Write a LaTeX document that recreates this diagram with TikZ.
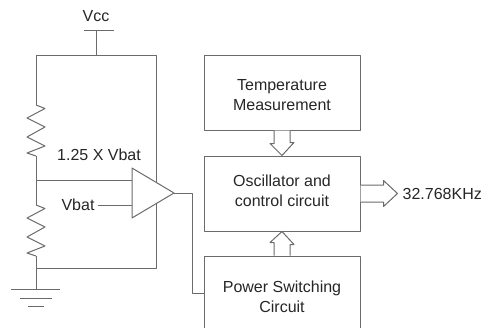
\documentclass[tikz,border=0pt]{standalone}
\usepackage{fontspec}
\setmainfont{Liberation Sans}
\usetikzlibrary{positioning}
\definecolor{wirecol}{gray}{0.42}
\tikzset{
  wire/.style={draw=wirecol, line width=1pt},
  blockbox/.style={wire, minimum width=156pt, inner sep=0pt, align=center, text=black!85},
  label/.style={inner sep=0pt, text=black!85, align=center},
  resistor/.pic={\draw[wire] (0,0)--(9,3.5)--(-9,13)--(9,22)--(-9,32)--(9,41)--(-9,48)--(0,51);}
}
\begin{document}
\begin{tikzpicture}[x=1pt, y=-1pt, font=\fontsize{16}{20}\selectfont, line join=round]
  \useasboundingbox (0,0) rectangle (485,327);
  % blocks on the right
  \node[blockbox, minimum height=75pt] (temp) at (282,92.5) {};
  \node[blockbox, minimum height=75pt] (osc) at (282,193.5) {};
  \node[blockbox, minimum height=82pt] (power) at (282,297) {Power Switching\\Circuit};
  \node[label] (templabel) at (282,95.5) {Temperature\\Measurement};
  \node[label] (osclabel) at (282,190.5) {Oscillator and\\control circuit};
  \node[label, right=42pt of osc.east] (freq) {32.768KHz};
  % hollow arrows
  \draw[wire, fill=white] ([xshift=-8pt]temp.south)--++(0,13)--++(-4,0)--(osc.north)--++(12,-13)--++(-4,0)--([xshift=8pt]temp.south);
  \draw[wire, fill=white] ([xshift=-8pt]power.north)--++(0,-13)--++(-4,0)--(osc.south)--++(12,13)--++(-4,0)--([xshift=8pt]power.north);
  \draw[wire, fill=white] ([yshift=8.5pt]osc.east)--++(23,0)--++(0,-4.5)--++(14,13)--++(-14,13)--++(0,-4.5)--([yshift=-8.5pt]osc.east);
  % supply rails
  \coordinate (vccl) at (84,30);
  \coordinate (vccr) at (114,30);
  \coordinate (vcc) at (96,30);
  \coordinate (top) at (96,55);
  \coordinate (tl) at (36,55);
  \coordinate (tr) at (156,55);
  \coordinate (r1) at (36,105);
  \coordinate (mid) at (36,180);
  \coordinate (r2) at (36,205);
  \coordinate (bl) at (36,268);
  \coordinate (br) at (156,268);
  \coordinate (gnd) at (36,289);
  \node[label, above=8pt of vcc] (vcclabel) {Vcc};
  \draw[wire] (vccl)--(vccr);
  \draw[wire] (vcc)--(top);
  \draw[wire] (r1)--(tl)--(tr)--(br)--(bl)--(gnd);
  \draw[wire] (r1)++(0,51)--(r2);
  \draw[wire] (r2)++(0,51)--(bl);
  \pic at (r1) {resistor};
  \pic at (r2) {resistor};
  % ground
  \draw[wire] (11,289)--(60,289);
  \draw[wire] (20,298)--(52,298);
  \draw[wire] (28,306)--(44,306);
  % comparator
  \coordinate (ca) at (132,168);
  \coordinate (cb) at (132,218);
  \coordinate (cout) at (174,193);
  \draw[wire, fill=white] (ca)--(cout)--(cb)--cycle;
  \coordinate (inp) at (132,180);
  \coordinate (inn) at (132,205);
  \draw[wire] (mid)--(inp);
  \node[label] (ratio) at (99,155) {1.25 X Vbat};
  \node[label] (vbat) at (78,205) {Vbat};
  \draw[wire] (vbat.east)++(3,0)--(inn);
  \draw[wire] (cout)--(192,193)--(192,293)--(power.west|-192,293);
\end{tikzpicture}
\end{document}
